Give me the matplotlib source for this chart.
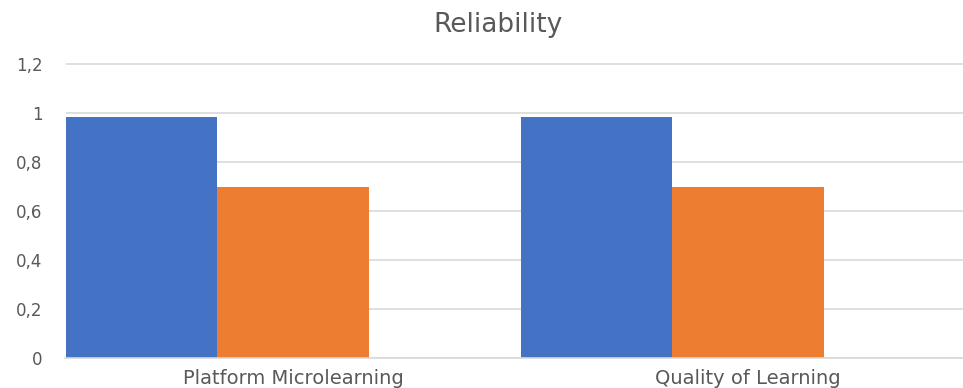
import matplotlib
matplotlib.use("Agg")
import matplotlib.pyplot as plt
from matplotlib.ticker import FuncFormatter
import numpy as np

categories = ["Platform Microlearning", "Quality of Learning"]
series_a = [0.984, 0.984]
series_b = [0.697, 0.697]
y_ticks = [0, 0.2, 0.4, 0.6, 0.8, 1.0, 1.2]

plt.rcParams["font.family"] = ["DejaVu Sans"]
text_color = "#595959"
grid_color = "#D9D9D9"

W, H = 963, 388
fig = plt.figure(figsize=(W / 100, H / 100), dpi=100)
left_px, right_px = 65.5, 963
bottom_px, top_px = 358.3, 62
y_top = 1.2 + 0.2 * 2 / 48.7
ax = fig.add_axes([left_px / W, (H - bottom_px) / H,
                   (right_px - left_px) / W, (bottom_px - top_px) / H])

x = np.arange(len(categories))
bw = 1 / 3
ax.bar(x - bw, series_a, width=bw, color="#4472C4", align="center", zorder=3)
ax.bar(x, series_b, width=bw, color="#ED7D31", align="center", zorder=3)

unit_px = 455.0
ax.set_xlim(-0.5, -0.5 + (right_px - left_px) / unit_px)
ax.set_ylim(0, y_top)

ax.set_yticks(y_ticks)
ax.yaxis.set_major_formatter(FuncFormatter(
    lambda v, p: ("%g" % round(v, 1)).replace(".", ",")))
ax.set_xticks(x)
ax.set_xticklabels(categories)

ax.grid(axis="y", color=grid_color, linewidth=1.2, zorder=0)
for s in ["top", "right", "left"]:
    ax.spines[s].set_visible(False)
ax.spines["bottom"].set_color(grid_color)
ax.spines["bottom"].set_linewidth(1.2)
ax.spines["bottom"].set_zorder(4)

ax.tick_params(axis="y", length=0, pad=16.5, labelsize=12, labelcolor=text_color)
ax.tick_params(axis="x", length=0, pad=8, labelsize=14, labelcolor=text_color)

fig.text(498 / W, 1 - 25 / H, "Reliability", ha="center", va="center",
         fontsize=19, color=text_color)

fig.savefig("out.png", dpi=100)
